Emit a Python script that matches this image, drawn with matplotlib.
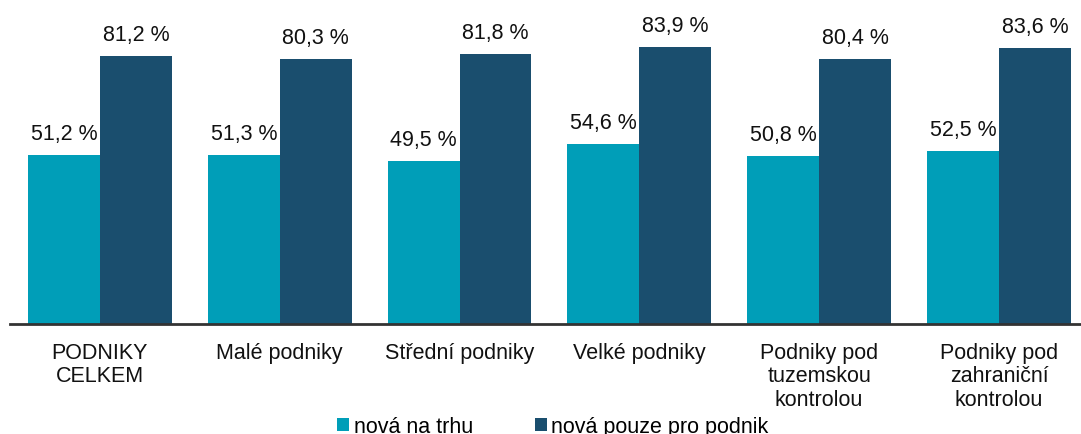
import matplotlib
matplotlib.use("Agg")
import matplotlib.pyplot as plt
import numpy as np

categories = ["PODNIKY\nCELKEM", "Malé podniky", "Střední podniky", "Velké podniky",
              "Podniky pod\ntuzemskou\nkontrolou", "Podniky pod\nzahraniční\nkontrolou"]
nova_na_trhu = [51.2, 51.3, 49.5, 54.6, 50.8, 52.5]
nova_pro_podnik = [81.2, 80.3, 81.8, 83.9, 80.4, 83.6]
series_names = ["nová na trhu", "nová pouze pro podnik"]

c1 = "#009EB8"
c2 = "#1A4E6E"

plt.rcParams['font.family'] = ['Liberation Sans', 'DejaVu Sans']

W, H = 1081, 435
fig = plt.figure(figsize=(W / 100, H / 100), dpi=100)
ax = fig.add_axes([10 / W, 110 / H, 1071 / W, 325 / H])

x = np.arange(len(categories))
bw = 0.4
b1 = ax.bar(x - bw / 2, nova_na_trhu, bw, color=c1, label=series_names[0])
b2 = ax.bar(x + bw / 2, nova_pro_podnik, bw, color=c2, label=series_names[1])

fmt = lambda v: f"{v:.1f}".replace(".", ",") + " %"
for bars, vals in ((b1, nova_na_trhu), (b2, nova_pro_podnik)):
    for r, v in zip(bars, vals):
        ax.annotate(fmt(v), (r.get_x() + r.get_width() / 2, v),
                    xytext=(0, 16), textcoords="offset pixels",
                    ha="center", va="baseline", fontsize=15.5, color="#111111")

ax.set_xlim(-0.5, 5.456)
ax.set_ylim(0, 98.5)
for s in ["top", "right", "left"]:
    ax.spines[s].set_visible(False)
ax.spines["bottom"].set_color("#333333")
ax.spines["bottom"].set_linewidth(2)
ax.set_yticks([])
ax.set_xticks(x)
ax.set_xticklabels(categories, fontsize=15.5, linespacing=1.15, color="#111111")
ax.tick_params(axis="x", length=0, pad=13)

fig.legend(handles=[b1, b2], labels=series_names, loc="center",
           bbox_to_anchor=(553 / W, 7 / H), ncol=2, frameon=False,
           fontsize=15.5, handlelength=0.55, handleheight=0.55,
           handletextpad=0.2, columnspacing=2.9, borderpad=0, borderaxespad=0)

fig.savefig("out.png", dpi=100)
